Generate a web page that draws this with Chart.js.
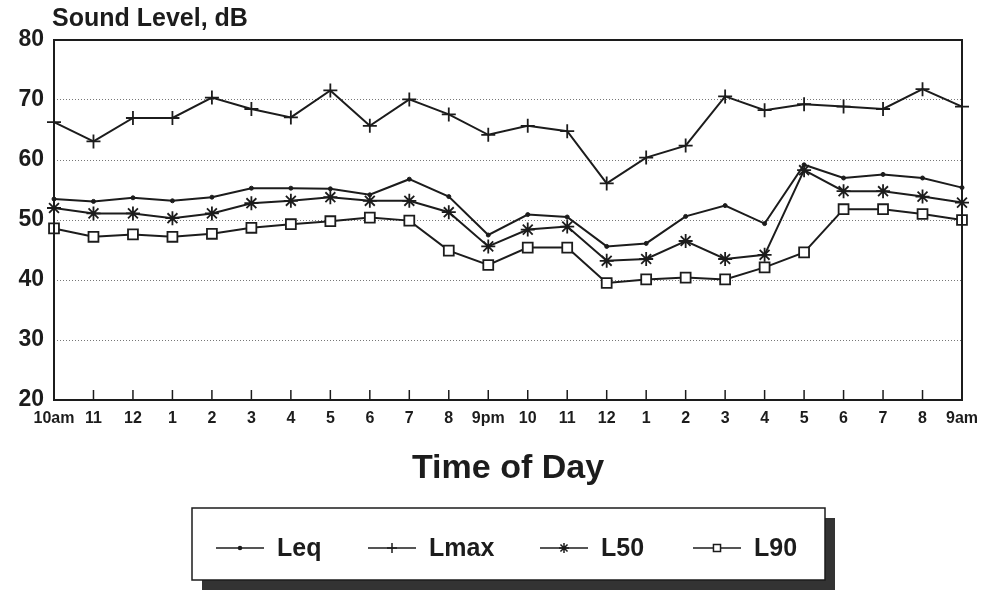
<!DOCTYPE html>
<html>
<head>
<meta charset="utf-8">
<script src="https://cdn.jsdelivr.net/npm/chart.js@4/dist/chart.umd.min.js"></script>
<style>
  html, body { margin: 0; padding: 0; background: #fff; }
  #wrap { width: 989px; height: 590px; position: relative; }
</style>
</head>
<body>
<div id="wrap"><canvas id="soundChart" width="989" height="590"></canvas></div>
<script>
// hours of the survey, 10am one day to 9am the next
const hours = ['10am', '11', '12', '1', '2', '3', '4', '5', '6', '7', '8', '9pm',
  '10', '11', '12', '1', '2', '3', '4', '5', '6', '7', '8', '9am'];

// sound levels in dB
const leq  = [53.5, 53.1, 53.7, 53.2, 53.8, 55.3, 55.3, 55.2, 54.2, 56.8, 53.9, 47.5,
  50.9, 50.5, 45.6, 46.1, 50.6, 52.4, 49.4, 59.2, 57.0, 57.6, 57.0, 55.4];
const lmax = [66.3, 63.1, 67.0, 67.0, 70.4, 68.5, 67.1, 71.6, 65.7, 70.1, 67.6, 64.2,
  65.7, 64.8, 56.1, 60.4, 62.4, 70.6, 68.3, 69.3, 68.9, 68.5, 71.8, 68.9];
const l50  = [52.0, 51.1, 51.1, 50.3, 51.1, 52.8, 53.2, 53.8, 53.2, 53.2, 51.3, 45.6,
  48.4, 48.9, 43.2, 43.5, 46.5, 43.5, 44.2, 58.3, 54.8, 54.8, 53.9, 52.9];
const l90  = [48.6, 47.2, 47.6, 47.2, 47.7, 48.7, 49.3, 49.8, 50.4, 49.9, 44.9, 42.5,
  45.4, 45.4, 39.5, 40.1, 40.4, 40.1, 42.1, 44.6, 51.8, 51.8, 51.0, 50.0];

const yTicks = [20, 30, 40, 50, 60, 70, 80];

const ink = '#1c1c1c';
const fontFam = '"Liberation Sans", Arial, Helvetica, sans-serif';

function series(label, data, style, radius) {
  return {
    label: label,
    data: data,
    borderColor: ink,
    backgroundColor: style === 'rect' ? '#fff' : ink,
    borderWidth: 2,
    pointStyle: style,
    pointRadius: radius,
    pointBorderWidth: style === 'circle' ? 1 : 1.8,
    pointBorderColor: ink,
    pointBackgroundColor: style === 'rect' ? '#fff' : ink,
    tension: 0,
    clip: false
  };
}

const datasets = [
  series('Leq', leq, 'circle', 2),
  series('Lmax', lmax, 'cross', 7),
  series('L50', l50, 'star', 7),
  series('L90', l90, 'rect', 7)
];

// frame, inner tick marks, y title and the boxed legend
const decorations = {
  id: 'decorations',
  afterDraw(chart) {
    const ctx = chart.ctx;
    const a = chart.chartArea;
    const xs = chart.scales.x;
    ctx.save();
    ctx.setLineDash([]);
    ctx.strokeStyle = ink;
    ctx.lineWidth = 2;
    ctx.strokeRect(a.left, a.top, a.right - a.left, a.bottom - a.top);

    // small tick marks pointing up from the bottom axis
    ctx.lineWidth = 1.5;
    for (let i = 1; i < hours.length - 1; i++) {
      const x = xs.getPixelForValue(i);
      ctx.beginPath();
      ctx.moveTo(x, a.bottom);
      ctx.lineTo(x, a.bottom - 10);
      ctx.stroke();
    }

    // y axis title
    ctx.fillStyle = ink;
    ctx.font = 'bold 25px ' + fontFam;
    ctx.textAlign = 'left';
    ctx.textBaseline = 'alphabetic';
    ctx.fillText('Sound Level, dB', 52, 26);

    // legend box with drop shadow
    const bx = 192, by = 508, bw = 633, bh = 72;
    ctx.fillStyle = '#333';
    ctx.fillRect(bx + 10, by + 10, bw, bh);
    ctx.fillStyle = '#fff';
    ctx.fillRect(bx, by, bw, bh);
    ctx.strokeStyle = ink;
    ctx.lineWidth = 1.5;
    ctx.strokeRect(bx, by, bw, bh);

    const itemX = [216, 368, 540, 693];
    const cy = 548;
    ctx.font = 'bold 25px ' + fontFam;
    ctx.textBaseline = 'middle';
    chart.data.datasets.forEach((ds, i) => {
      const x0 = itemX[i];
      ctx.strokeStyle = ink;
      ctx.lineWidth = 1.5;
      ctx.beginPath();
      ctx.moveTo(x0, cy);
      ctx.lineTo(x0 + 48, cy);
      ctx.stroke();
      ctx.fillStyle = ds.pointBackgroundColor;
      ctx.strokeStyle = ink;
      Chart.helpers.drawPoint(ctx, {
        pointStyle: ds.pointStyle,
        radius: ds.pointStyle === 'circle' ? 1.5 : 5,
        borderWidth: 1.3,
        rotation: 0
      }, x0 + 24, cy);
      ctx.fillStyle = ink;
      ctx.fillText(ds.label, x0 + 61, cy + 1);
    });
    ctx.restore();
  }
};

const chart = new Chart(document.getElementById('soundChart'), {
  type: 'line',
  data: { labels: hours, datasets: datasets },
  options: {
    responsive: false,
    animation: false,
    layout: { padding: { top: 40, right: 27, left: 0, bottom: 0 } },
    plugins: {
      legend: { display: false },
      tooltip: { enabled: false }
    },
    scales: {
      x: {
        offset: false,
        grid: { display: false },
        border: { display: false },
        ticks: {
          autoSkip: false,
          maxRotation: 0,
          minRotation: 0,
          color: ink,
          padding: 1,
          font: { family: fontFam, size: 16, weight: 'bold' }
        },
        title: {
          display: true,
          text: 'Time of Day',
          color: ink,
          padding: { top: 0, bottom: 101 },
          font: { family: fontFam, size: 34, weight: 'bold' }
        },
        afterFit(scale) { scale.height = 190; }
      },
      y: {
        min: 20,
        max: 80,
        afterBuildTicks(scale) { scale.ticks = yTicks.map(v => ({ value: v })); },
        grid: { color: '#777', lineWidth: 1, drawTicks: false },
        border: { display: false, dash: [1, 2] },
        ticks: {
          color: ink,
          padding: 10,
          font: { family: fontFam, size: 23, weight: 'bold' }
        },
        afterFit(scale) { scale.width = 54; }
      }
    }
  },
  plugins: [decorations]
});
</script>
</body>
</html>
